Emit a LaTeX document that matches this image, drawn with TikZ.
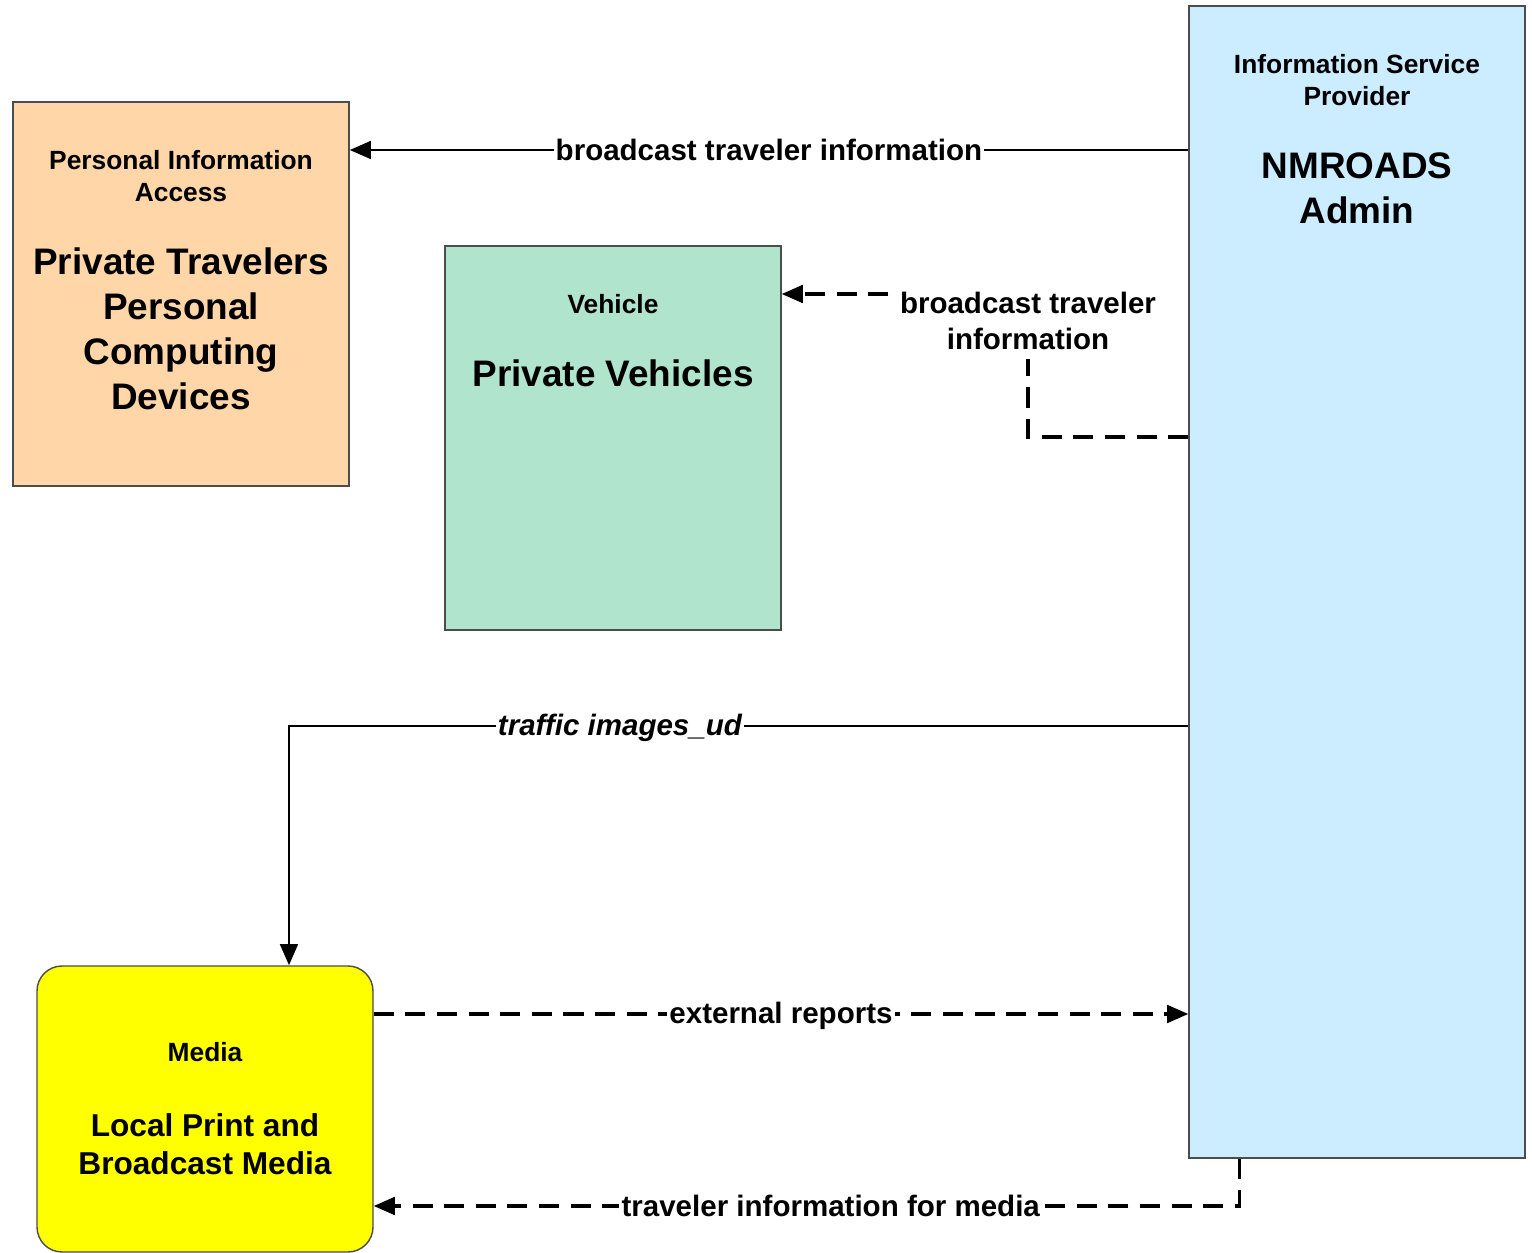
\documentclass[tikz,border=0pt]{standalone}
\usepackage{fontspec}
\setmainfont{Liberation Sans}
\usepackage{tikz}
\usetikzlibrary{arrows.meta, positioning, calc}

\definecolor{peach}{RGB}{255,214,168}
\definecolor{mint}{RGB}{176,228,204}
\definecolor{skyblue}{RGB}{204,236,255}
\definecolor{mediayellow}{RGB}{255,255,0}

\begin{document}
\begin{tikzpicture}[
    box/.style={rectangle, draw=black!70, line width=0.4pt, minimum width=3.36cm, inner sep=0pt},
    kind/.style={font=\bfseries\fontsize{7.5}{9.1}\selectfont, align=center, inner sep=0pt},
    title/.style={font=\bfseries\fontsize{10.5}{12.8}\selectfont, align=center, inner sep=0pt},
    flow/.style={-{Triangle[length=6pt, width=5pt]}, line width=0.8pt},
    dashline/.style={flow, line width=0.9pt, dash pattern=on 5.7pt off 3.3pt},
    lbl/.style={font=\bfseries\fontsize{8.4}{10}\selectfont, align=center, fill=white, inner sep=0.6pt}
]
\useasboundingbox (0,0) rectangle (15.32,-12.53);

% boxes
\node[box, fill=peach, minimum height=3.84cm] (pia) at (1.81,-2.94) {};
\node[box, fill=mint, minimum height=3.84cm] (veh) at (6.13,-4.38) {};
\node[box, fill=skyblue, minimum height=11.52cm] (isp) at (13.57,-5.82) {};
\node[box, fill=mediayellow, minimum height=2.86cm, rounded corners=0.25cm] (media) at (2.05,-11.09) {};

% box texts
\node[kind, below=0.48cm of pia.north] (piakind) {Personal Information\\Access};
\node[title, below=0.45cm of piakind] (pianame) {Private Travelers\\Personal\\Computing\\Devices};
\node[kind, below=0.48cm of veh.north] (vehkind) {Vehicle};
\node[title, below=0.45cm of vehkind] (vehname) {Private Vehicles};
\node[kind, below=0.48cm of isp.north] (ispkind) {Information Service\\Provider};
\node[title, below=0.46cm of ispkind] (ispname) {NMROADS\\Admin};
\node[kind, below=0.765cm of media.north] (mediakind) {Media};
\node[title, font=\bfseries\fontsize{9}{10.8}\selectfont, below=0.50cm of mediakind] (medianame) {Local Print and\\Broadcast Media};

% flows
\draw[flow] (isp.west |- 0,-1.50) -- node[lbl] {broadcast traveler information} (pia.east |- 0,-1.50);
\draw[dashline] (isp.west |- 0,-4.37) -| (10.28,-2.94)
    node[lbl, inner sep=2.6pt, yshift=-0.27cm] {broadcast traveler\\information} -- (veh.east |- 0,-2.94);
\draw[flow] (isp.west |- 0,-7.26) -| node[lbl, pos=0.316, yshift=-0.02cm, font=\bfseries\itshape\fontsize{8.4}{10}\selectfont] {traffic images\_ud} (media.north -| 2.89,0);
\draw[dashline] (media.east |- 0,-10.14) -- node[lbl, yshift=-0.02cm] {external reports} (isp.west |- 0,-10.14);
\draw[dashline] ($(isp.south west)+(0.51,0)$) |- node[lbl, pos=0.736] {traveler information for media} (media.east |- 0,-12.06);

\end{tikzpicture}
\end{document}
